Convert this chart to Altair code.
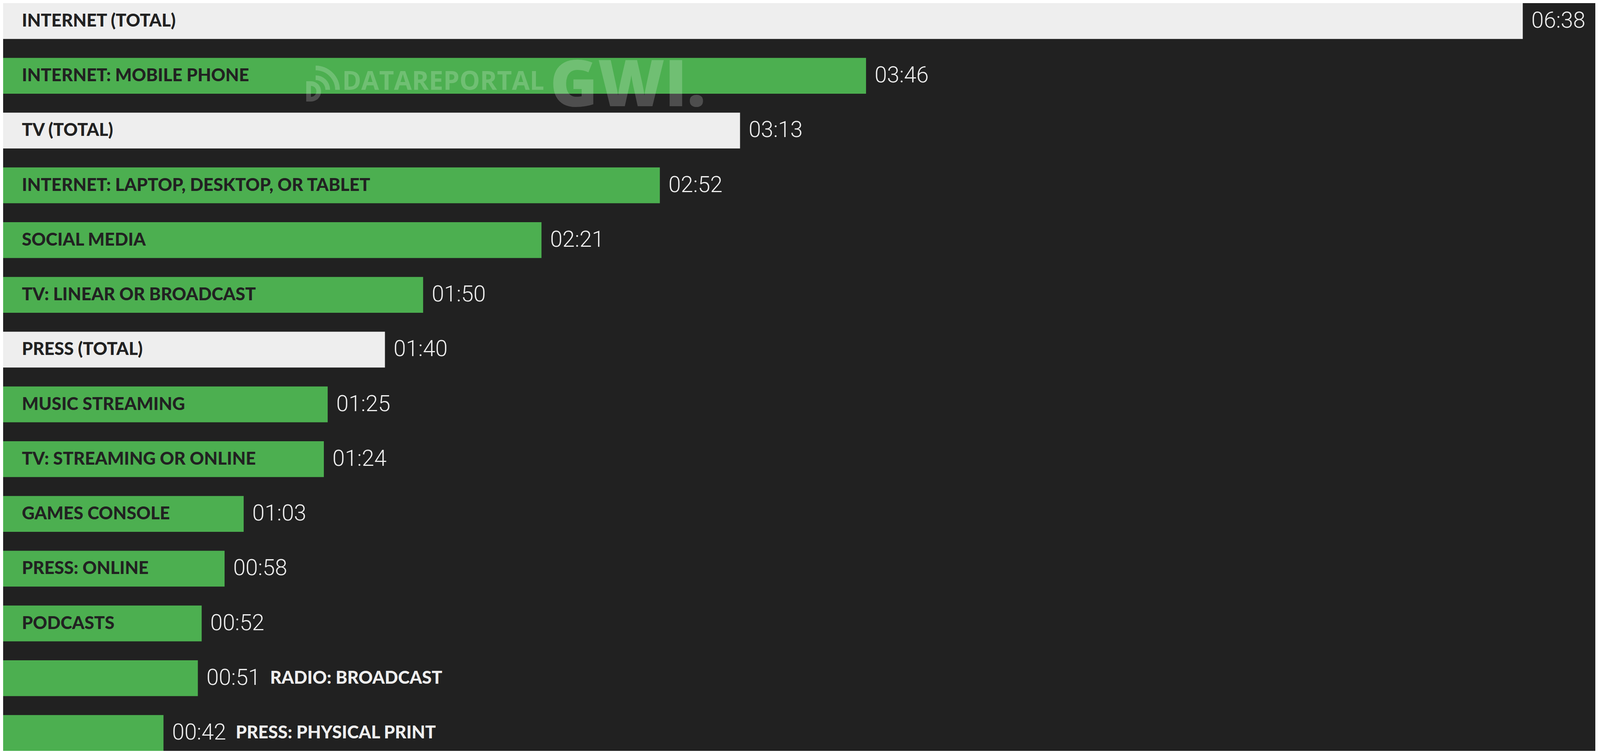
import altair as alt
import pandas as pd

categories = [
    "INTERNET (TOTAL)",
    "INTERNET: MOBILE PHONE",
    "TV (TOTAL)",
    "INTERNET: LAPTOP, DESKTOP, OR TABLET",
    "SOCIAL MEDIA",
    "TV: LINEAR OR BROADCAST",
    "PRESS (TOTAL)",
    "MUSIC STREAMING",
    "TV: STREAMING OR ONLINE",
    "GAMES CONSOLE",
    "PRESS: ONLINE",
    "PODCASTS",
    "RADIO: BROADCAST",
    "PRESS: PHYSICAL PRINT",
]
minutes = [398, 226, 193, 172, 141, 110, 100, 85, 84, 63, 58, 52, 51, 42]
time_labels = ["06:38", "03:46", "03:13", "02:52", "02:21", "01:50", "01:40",
               "01:25", "01:24", "01:03", "00:58", "00:52", "00:51", "00:42"]
kinds = ["total", "sub", "total", "sub", "sub", "sub", "total",
         "sub", "sub", "sub", "sub", "sub", "sub", "sub"]

df = pd.DataFrame({"category": categories, "minutes": minutes,
                   "time": time_labels, "kind": kinds})
df["inside"] = df["minutes"] > 51

BG = "#212121"
LIGHT = "#EEEEEE"
GREEN = "#4CAF50"
LABEL_FONT = "Lato"
VALUE_FONT = "Roboto"

W = 4076
H = 1915

xscale = alt.Scale(domain=[0, 417], nice=False, zero=True)
ysc = alt.Scale(domain=categories, paddingInner=0.345, paddingOuter=0)

base = alt.Chart(df).encode(
    y=alt.Y("category:N", sort=categories, axis=None, scale=ysc)
)

bars = base.mark_bar().encode(
    x=alt.X("minutes:Q", axis=None, scale=xscale),
    color=alt.Color("kind:N", scale=alt.Scale(domain=["total", "sub"], range=[LIGHT, GREEN]), legend=None),
)

values = base.mark_text(align="left", baseline="middle", dx=22, font=VALUE_FONT,
                        fontWeight=300, fontSize=57, color=LIGHT).encode(
    x=alt.X("minutes:Q"), text="time:N"
)

inside_labels = base.transform_filter("datum.inside").mark_text(
    align="left", baseline="middle", dx=48, font=LABEL_FONT, fontWeight=900,
    fontSize=45, color=BG
).encode(x=alt.datum(0), text="category:N")

outside_labels = base.transform_filter("!datum.inside").mark_text(
    align="left", baseline="middle", dx=185, font=LABEL_FONT, fontWeight=900,
    fontSize=45, color=LIGHT
).encode(x=alt.X("minutes:Q"), text="category:N")

one = pd.DataFrame({"k": [0]})
WM_OP = 0.2
wm_text1 = alt.Chart(one).mark_text(
    text="DATAREPORTAL", align="left", baseline="alphabetic", font="Open Sans",
    fontWeight="bold", fontSize=66, color="white", opacity=WM_OP
).encode(x=alt.value(868), y=alt.value(222))
wm_text2 = alt.Chart(one).mark_text(
    text="GWI.", align="left", baseline="alphabetic", font="Open Sans",
    fontWeight=800, fontSize=165, color="white", opacity=WM_OP
).encode(x=alt.value(1400), y=alt.value(264))
wm_arc1 = alt.Chart(one).mark_arc(
    theta=0, theta2=1.5708, radius=62, radius2=50, color="white", opacity=WM_OP
).encode(x=alt.value(800), y=alt.value(222))
wm_arc2 = alt.Chart(one).mark_arc(
    theta=0, theta2=1.5708, radius=37, radius2=25, color="white", opacity=WM_OP
).encode(x=alt.value(800), y=alt.value(222))
wm_d = alt.Chart(one).mark_arc(
    theta=0, theta2=3.1416, radius=26, radius2=14, color="white", opacity=WM_OP
).encode(x=alt.value(788), y=alt.value(226))
wm_dbar = alt.Chart(one).mark_rect(color="white", opacity=WM_OP).encode(
    x=alt.value(776), x2=alt.value(788), y=alt.value(200), y2=alt.value(252)
)

chart = alt.layer(
    bars, values, inside_labels, outside_labels,
    wm_arc1, wm_arc2, wm_d, wm_dbar, wm_text1, wm_text2
).properties(
    width=W, height=H, padding=0, background=BG,
    autosize=alt.AutoSizeParams(type="none")
).configure_view(stroke=None)

chart.save("out.html", embed_options={"renderer": "svg", "actions": False})
